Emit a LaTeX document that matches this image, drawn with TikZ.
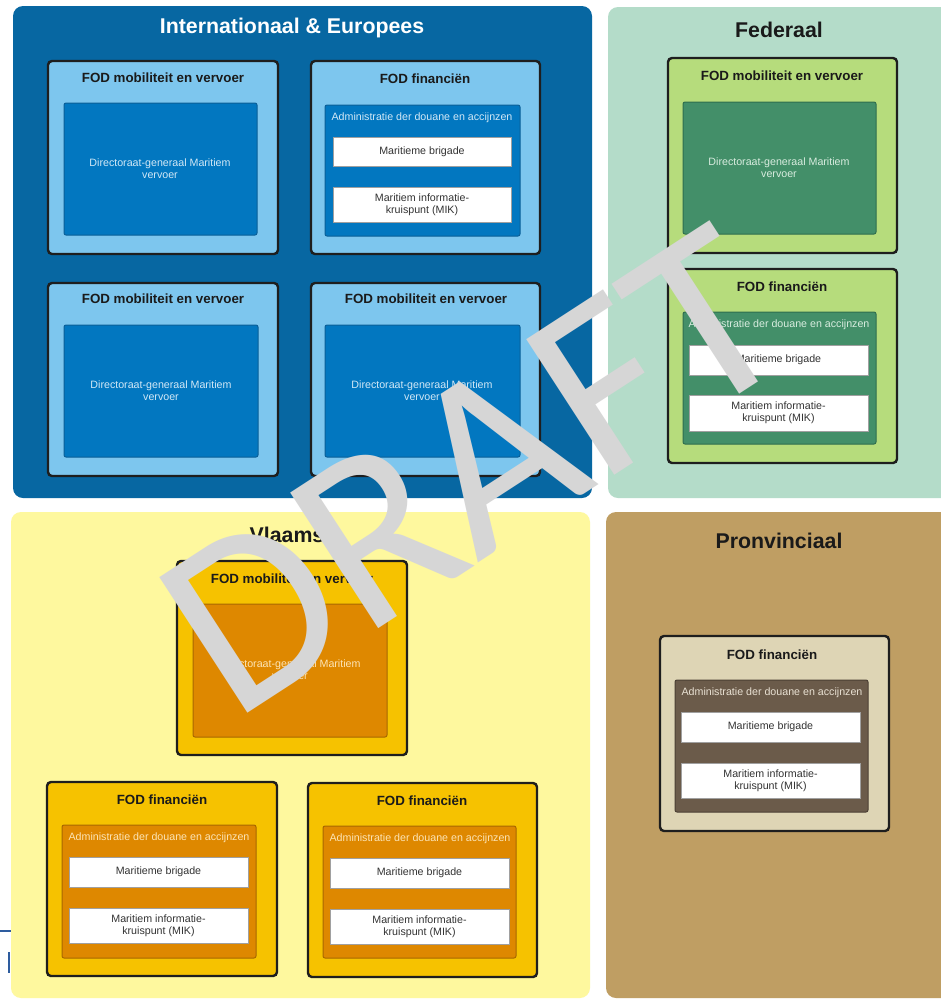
\documentclass[tikz,border=0pt]{standalone}
\usepackage{fontspec}
\setmainfont{Liberation Sans}
\newfontfamily\draftfont{Carlito}
\usetikzlibrary{fit}
\definecolor{intbg}{HTML}{0767A2}
\definecolor{intbox}{HTML}{7DC6EE}
\definecolor{intin}{HTML}{0277C0}
\definecolor{intinline}{HTML}{0A5F98}
\definecolor{inttxt}{HTML}{D2E8F6}
\definecolor{fedbg}{HTML}{B4DCC9}
\definecolor{fedbox}{HTML}{B6DC7C}
\definecolor{fedin}{HTML}{438F69}
\definecolor{fedinline}{HTML}{2F6E4E}
\definecolor{fedtxt}{HTML}{D8ECDF}
\definecolor{vlbg}{HTML}{FEF89E}
\definecolor{vlbox}{HTML}{F6C200}
\definecolor{vlin}{HTML}{DE8800}
\definecolor{vlinline}{HTML}{A86800}
\definecolor{vltxt}{HTML}{FCE4B6}
\definecolor{prbg}{HTML}{BF9E63}
\definecolor{prbox}{HTML}{DED5B5}
\definecolor{prin}{HTML}{6B5B4A}
\definecolor{prinline}{HTML}{4C4034}
\definecolor{prtxt}{HTML}{E8E0D2}
\definecolor{boxline}{HTML}{1E1E1E}
\definecolor{darktxt}{HTML}{1A1A1A}
\definecolor{wtxt}{HTML}{333333}
\definecolor{wline}{HTML}{A0A0A0}
\definecolor{draftgray}{HTML}{D6D6D6}
\definecolor{artblue}{HTML}{2E5C9E}
\begin{document}
\begin{tikzpicture}[x=0.75pt,y=-0.75pt,
  panel/.style={inner sep=0pt, rounded corners=7.5pt, draw=none},
  outerbox/.style={inner sep=0pt, draw=boxline, line width=1.8pt, rounded corners=3pt},
  innerbox/.style={inner sep=0pt, draw=#1, line width=0.75pt, rounded corners=1.5pt},
  whitebox/.style={inner sep=0pt, fill=white, draw=wline, line width=0.6pt},
  paneltitle/.style={font=\bfseries\fontsize{16}{19}\selectfont, text=darktxt, inner sep=0pt},
  boxtitle/.style={font=\bfseries\fontsize{10}{12}\selectfont, text=darktxt, inner sep=0pt},
  smalltxt/.style={font=\fontsize{8}{9.2}\selectfont, align=center, inner sep=0pt},
  wtext/.style={smalltxt, text=wtxt}]
\useasboundingbox (0,0) rectangle (941,1001);
\clip (0,0) rectangle (941,1001);
\fill[white] (0,0) rectangle (941,1001);

% artifacts at the left edge
\draw[artblue, line width=1.5pt] (0,931) -- (12,931);
\draw[artblue, line width=1.5pt] (9,952) -- (9,973);

% ---------------- panels
\node[panel, fill=intbg, fit={(13,6) (592,498)}] (pint) {};
\node[panel, fill=fedbg, fit={(608,7) (955,498)}] (pfed) {};
\node[panel, fill=vlbg, fit={(11,512) (590,998)}] (pvl) {};
\node[panel, fill=prbg, fit={(606,512) (955,998)}] (ppr) {};

\node[paneltitle, text=white] (tint) at (292,28) {Internationaal \& Europees};
\node[paneltitle] (tfed) at (779,30) {Federaal};
\node[paneltitle] (tvl) at (287,535) {Vlaams};
\node[paneltitle] (tpr) at (779,541) {Pronvinciaal};

% ---------------- Internationaal & Europees
\node[outerbox, fill=intbox, fit={(48,61) (278,254)}] (ia) {};
\node[boxtitle] (iat) at (163,78) {FOD mobiliteit en vervoer};
\node[innerbox=intinline, fill=intin, fit={(64,103) (257,235)}] (iai) {};
\node[smalltxt, text=inttxt] (iax) at (160,169) {Directoraat-generaal Maritiem\\vervoer};

\node[outerbox, fill=intbox, fit={(311,61) (540,254)}] (ib) {};
\node[boxtitle] (ibt) at (425,79) {FOD financiën};
\node[innerbox=intinline, fill=intin, fit={(325,105) (520,236)}] (ibi) {};
\node[smalltxt, text=inttxt] (ibx) at (422,118) {Administratie der douane en accijnzen};
\node[whitebox, fit={(333,137) (511,166)}] (ibw1) {};
\node[wtext] at (ibw1.center) {Maritieme brigade};
\node[whitebox, fit={(333,187) (511,222)}] (ibw2) {};
\node[wtext] at (ibw2.center) {Maritiem informatie-\\kruispunt (MIK)};

\node[outerbox, fill=intbox, fit={(48,283) (278,476)}] (ic) {};
\node[boxtitle] (ict) at (163,299) {FOD mobiliteit en vervoer};
\node[innerbox=intinline, fill=intin, fit={(64,325) (258,457)}] (ici) {};
\node[smalltxt, text=inttxt] (icx) at (161,391) {Directoraat-generaal Maritiem\\vervoer};

\node[outerbox, fill=intbox, fit={(311,283) (540,476)}] (id) {};
\node[boxtitle] (idt) at (426,299) {FOD mobiliteit en vervoer};
\node[innerbox=intinline, fill=intin, fit={(325,325) (520,457)}] (idi) {};
\node[smalltxt, text=inttxt] (idx) at (422,391) {Directoraat-generaal Maritiem\\vervoer};

% ---------------- Federaal
\node[outerbox, fill=fedbox, fit={(668,58) (897,253)}] (fa) {};
\node[boxtitle] (fat) at (782,76) {FOD mobiliteit en vervoer};
\node[innerbox=fedinline, fill=fedin, fit={(683,102) (876,234)}] (fai) {};
\node[smalltxt, text=fedtxt] (fax) at (779,168) {Directoraat-generaal Maritiem\\vervoer};

\node[outerbox, fill=fedbox, fit={(668,269) (897,463)}] (fb) {};
\node[boxtitle] (fbt) at (782,287) {FOD financiën};
\node[innerbox=fedinline, fill=fedin, fit={(683,312) (876,444)}] (fbi) {};
\node[smalltxt, text=fedtxt] (fbx) at (779,325) {Administratie der douane en accijnzen};
\node[whitebox, fit={(689,345) (868,375)}] (fbw1) {};
\node[wtext] at (fbw1.center) {Maritieme brigade};
\node[whitebox, fit={(689,395) (868,431)}] (fbw2) {};
\node[wtext] at (fbw2.center) {Maritiem informatie-\\kruispunt (MIK)};

% ---------------- Vlaams
\node[outerbox, fill=vlbox, fit={(177,561) (407,755)}] (va) {};
\node[boxtitle] (vat) at (292,579) {FOD mobiliteit en vervoer};
\node[innerbox=vlinline, fill=vlin, fit={(193,604) (387,737)}] (vai) {};
\node[smalltxt, text=vltxt] (vax) at (290,670) {Directoraat-generaal Maritiem\\vervoer};

\node[outerbox, fill=vlbox, fit={(47,782) (277,976)}] (vb) {};
\node[boxtitle] (vbt) at (162,800) {FOD financiën};
\node[innerbox=vlinline, fill=vlin, fit={(62,825) (256,958)}] (vbi) {};
\node[smalltxt, text=vltxt] (vbx) at (159,838) {Administratie der douane en accijnzen};
\node[whitebox, fit={(69,857) (248,887)}] (vbw1) {};
\node[wtext] at (vbw1.center) {Maritieme brigade};
\node[whitebox, fit={(69,908) (248,943)}] (vbw2) {};
\node[wtext] at (vbw2.center) {Maritiem informatie-\\kruispunt (MIK)};

\node[outerbox, fill=vlbox, fit={(308,783) (537,977)}] (vc) {};
\node[boxtitle] (vct) at (422,801) {FOD financiën};
\node[innerbox=vlinline, fill=vlin, fit={(323,826) (516,958)}] (vci) {};
\node[smalltxt, text=vltxt] (vcx) at (420,839) {Administratie der douane en accijnzen};
\node[whitebox, fit={(330,858) (509,888)}] (vcw1) {};
\node[wtext] at (vcw1.center) {Maritieme brigade};
\node[whitebox, fit={(330,909) (509,944)}] (vcw2) {};
\node[wtext] at (vcw2.center) {Maritiem informatie-\\kruispunt (MIK)};

% ---------------- Pronvinciaal
\node[outerbox, fill=prbox, fit={(660,636) (889,831)}] (pa) {};
\node[boxtitle] (pat) at (772,655) {FOD financiën};
\node[innerbox=prinline, fill=prin, fit={(675,680) (868,812)}] (pai) {};
\node[smalltxt, text=prtxt] (pax) at (772,693) {Administratie der douane en accijnzen};
\node[whitebox, fit={(681,712) (860,742)}] (paw1) {};
\node[wtext] at (paw1.center) {Maritieme brigade};
\node[whitebox, fit={(681,763) (860,798)}] (paw2) {};
\node[wtext] at (paw2.center) {Maritiem informatie-\\kruispunt (MIK)};

% ---------------- watermark
\node[font=\draftfont\fontsize{189}{189}\selectfont, text=draftgray, rotate=33,
      anchor=base west, inner sep=0pt] (draft) at (233,723) {DRAFT};
\end{tikzpicture}
\end{document}
